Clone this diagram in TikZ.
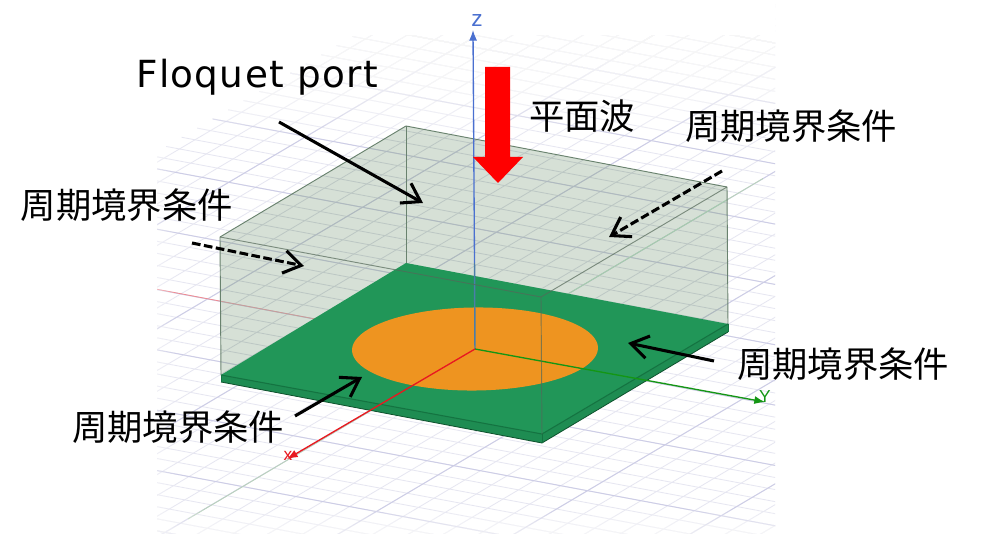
\documentclass[tikz,border=0pt]{standalone}
\usepackage{fontspec}
\usetikzlibrary{arrows.meta,calc}
\setmainfont{Noto Sans CJK JP}
\newfontfamily\axisfont{Liberation Sans}
\newfontfamily\latinfont[LetterSpace=3.6]{DejaVu Sans}
\definecolor{gridminor}{RGB}{230,230,241}
\definecolor{gridmajor}{RGB}{205,205,230}
\definecolor{boxfill}{RGB}{214,224,214}
\definecolor{boxgridminor}{RGB}{188,199,196}
\definecolor{boxgridmajor}{RGB}{175,185,192}
\definecolor{boxedge}{RGB}{105,130,110}
\definecolor{platetop}{RGB}{33,150,88}
\definecolor{plateside}{RGB}{30,140,82}
\definecolor{plateline}{RGB}{20,115,65}
\definecolor{discfill}{RGB}{238,148,32}
\definecolor{zblue}{RGB}{74,112,208}
\definecolor{zmuted}{RGB}{75,125,170}
\definecolor{yaxis}{RGB}{20,150,20}
\definecolor{xaxis}{RGB}{232,24,32}
\definecolor{faintgreen}{RGB}{185,212,185}
\tikzset{
  label text/.style={font=\fontsize{26.5}{30}\selectfont, inner sep=0pt, anchor=center, text=black},
  callout/.style={draw=black, line width=2.3pt, -{Straight Barb[length=13pt,width=17pt,line width=2.3pt]}},
  callout dash/.style={callout, dash pattern=on 6.5pt off 2.6pt},
  axis tip/.style={-{Latex[length=8pt,width=6pt]}, line width=1pt},
  axis name/.style={font=\axisfont\fontsize{13}{13}\selectfont, inner sep=0pt},
  box edge/.style={draw=boxedge, line width=0.7pt},
}
\newcommand{\gridset}[2]{%
  \foreach \n in {-45,...,40} {\draw[#1, line width=0.6pt] (-18.5,\n) -- (45,\n);}
  \foreach \n in {-18,...,45} {\draw[#1, line width=0.6pt] (\n,-45) -- (\n,40);}
  \foreach \n in {-45,-40,...,40} {\draw[#2, line width=0.7pt] (-18.5,\n) -- (45,\n);}
  \foreach \n in {-15,-10,...,45} {\draw[#2, line width=0.7pt] (\n,-45) -- (\n,40);}
}
\begin{document}
\begin{tikzpicture}[x=0.75pt,y=-0.75pt]
\useasboundingbox (0,0) rectangle (1000,534);
\fill[white] (0,0) rectangle (1000,534);

% named geometry
\coordinate (O) at (475,349);
\coordinate (bt) at (406,126);
\coordinate (lt) at (220,237);
\coordinate (rt) at (727,187);
\coordinate (ft) at (541,297);
\coordinate (pb) at (406,263);
\coordinate (pl) at (221,375);
\coordinate (pr) at (728,324);
\coordinate (pf) at (542,434);
\coordinate (sl) at (221,382);
\coordinate (sr) at (728,332);
\coordinate (sf) at (542,443);
\coordinate (zp) at (474.5,263);

% floor grid
\begin{scope}
  \clip (157,0) rectangle (775,534);
  \begin{scope}[shift={(475,349)},x={(20.0625pt,-3.75pt)},y={(11.625pt,6.8775pt)}]
    \gridset{gridminor}{gridmajor}
  \end{scope}
  % faint axis continuations
  \draw[red!40!gridminor, line width=0.6pt] (O) -- ($(O)+(-330,-62)$);
  \draw[faintgreen, line width=0.6pt] (O) -- ($(O)+(-287,170)$);
  \draw[faintgreen, line width=0.6pt] (O) -- ($(O)+(288,-170.5)$);
  % fade out towards the top and the bottom
  \fill[white] (150,0) rectangle (780,35);
  \foreach \k in {1,...,20} {\fill[white, opacity=0.1] (150,0) rectangle (780,35+5*\k);}
  \foreach \k in {1,...,8} {\fill[white, opacity=0.12] (150,534) rectangle (780,534-3*\k);}
  \foreach \k in {1,...,6} {\fill[white, opacity=0.1] (150,0) rectangle (150+4*\k,534);}
\end{scope}

% translucent air box, with the floor grid seen through it
\fill[boxfill] (lt) -- (bt) -- (rt) -- (pr) -- (pf) -- (pl) -- cycle;
\begin{scope}
  \clip (lt) -- (bt) -- (rt) -- (pr) -- (pf) -- (pl) -- cycle;
  \begin{scope}[shift={(475,349)},x={(20.0625pt,-3.75pt)},y={(11.625pt,6.8775pt)}]
    \gridset{boxgridminor}{boxgridmajor}
  \end{scope}
  \draw[red!22!boxgridminor, line width=0.6pt] (O) -- ($(O)+(-330,-62)$);
  \draw[green!12!boxgridminor, line width=0.6pt] (O) -- ($(O)+(288,-170.5)$);
\end{scope}
\draw[box edge] (bt) -- (lt);
\draw[box edge] (bt) -- (rt);
\draw[box edge] (bt) -- (pb);
\draw[box edge] (rt) -- (pr);
\draw[box edge] (lt) -- (pl);

% z axis behind the plate level
\draw[zblue, line width=1.1pt, axis tip] (zp) -- (473,30);

% substrate
\fill[plateside] (pl) -- (pf) -- (pr) -- (sr) -- (sf) -- (sl) -- cycle;
\fill[platetop] (pb) -- (pl) -- (pf) -- (pr) -- cycle;
\draw[plateline, line width=0.8pt] (pl) -- (pf) -- (pr);
\draw[plateline!70!black, line width=0.6pt] (sl) -- (sf) -- (sr);
\draw[plateline, line width=0.6pt] (pl) -- (sl);
\draw[plateline, line width=0.6pt] (pf) -- (sf);
\draw[plateline, line width=0.6pt] (pr) -- (sr);

% disc
\fill[discfill] plot[domain=0:356,samples=90,smooth cycle]
  ({475+0.663*(160.5*cos(\x)+93*sin(\x))},{349+0.663*(30*cos(\x)-55*sin(\x))});

% axes over the plate
\draw[zmuted, line width=1.1pt] (zp) -- (O);
\draw[yaxis, line width=1pt, axis tip] (O) -- (765,402);
\draw[xaxis, line width=1pt, axis tip] (O) -- (287,459);

% box edges in front of the plate
\draw[boxedge!80!black, opacity=0.7, line width=0.7pt] (lt) -- (ft) -- (rt);
\draw[boxedge!80!black, opacity=0.7, line width=0.7pt] (ft) -- (pf);

% axis names
\node[axis name, text=zblue, font=\axisfont\fontsize{17}{17}\selectfont] (zname) at (477,21) {z};
\node[axis name, text=yaxis] (yname) at (765,397) {Y};
\node[axis name, text=xaxis] (xname) at (288,456) {x};

% plane wave arrow
\fill[red] (485,67) -- (510,67) -- (510,157) -- (523,157) -- (498,183) -- (473,157) -- (485,157) -- cycle;

% labels
\node[label text, font=\latinfont\fontsize{28}{30}\selectfont] (floquet) at (257,77) {Floquet port};
\node[label text] (wave) at (582,116) {平面波};
\node[label text] (pbcTR) at (791,126) {周期境界条件};
\node[label text] (pbcL) at (127,205) {周期境界条件};
\node[label text] (pbcR) at (843,364) {周期境界条件};
\node[label text] (pbcB) at (178,427) {周期境界条件};

% callout arrows
\coordinate (a1s) at (279,122); \coordinate (a1e) at (423,203);
\coordinate (a2s) at (192,243); \coordinate (a2e) at (304,266);
\coordinate (a3s) at (722,171); \coordinate (a3e) at (609,237);
\coordinate (a4s) at (714,361); \coordinate (a4e) at (628,343);
\coordinate (a5s) at (295,416); \coordinate (a5e) at (362,377);
\draw[callout] (a1s) -- (a1e);
\draw[callout dash] (a2s) -- (a2e);
\draw[callout dash] (a3s) -- (a3e);
\draw[callout] (a4s) -- (a4e);
\draw[callout] (a5s) -- (a5e);
\end{tikzpicture}
\end{document}
